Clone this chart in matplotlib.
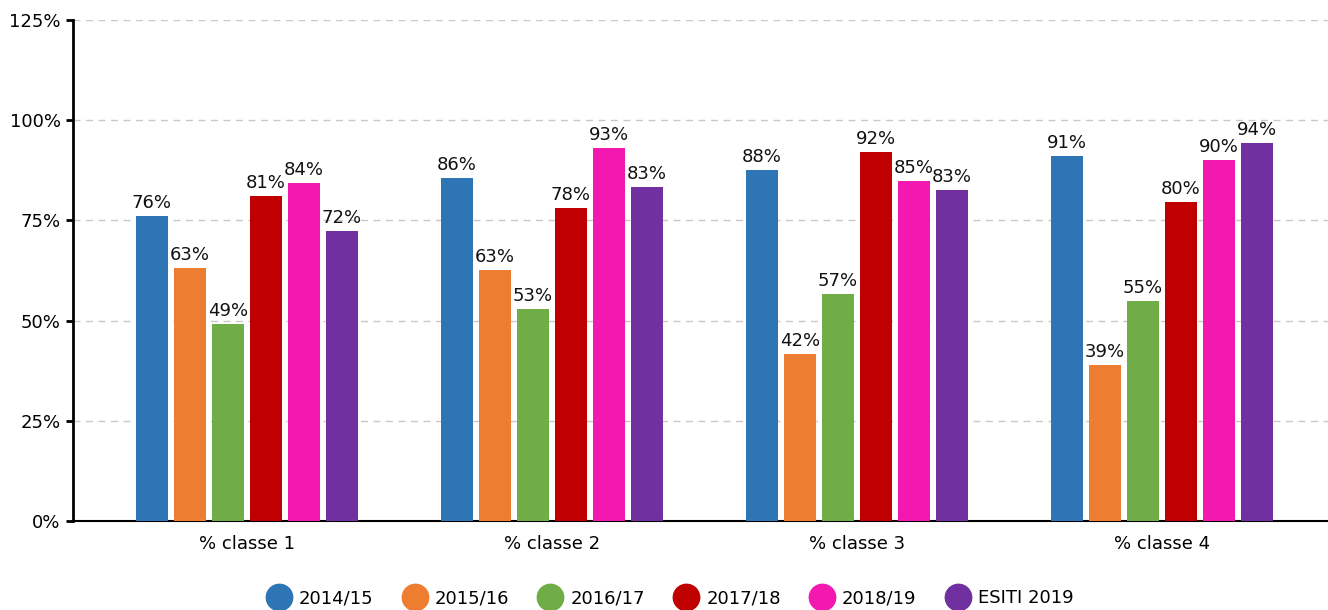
import numpy as np
import matplotlib
matplotlib.use('Agg')
import matplotlib.pyplot as plt
from matplotlib.ticker import FuncFormatter
from matplotlib.lines import Line2D

categories = ['% classe 1', '% classe 2', '% classe 3', '% classe 4']
series = ['2014/15', '2015/16', '2016/17', '2017/18', '2018/19', 'ESITI 2019']
colors = ['#2E75B6', '#ED7D31', '#70AD47', '#C00000', '#F319B0', '#7030A0']

# values (percent)
v_1415 = [76.1, 85.5, 87.5, 91.0]
v_1516 = [63.1, 62.6, 41.6, 38.9]
v_1617 = [49.1, 52.9, 56.6, 54.9]
v_1718 = [81.0, 78.1, 92.0, 79.6]
v_1819 = [84.3, 93.0, 84.8, 90.0]
v_esiti = [72.3, 83.3, 82.7, 94.3]
values = [v_1415, v_1516, v_1617, v_1718, v_1819, v_esiti]

yticks = [0, 25, 50, 75, 100, 125]

plt.rcParams['font.family'] = ['DejaVu Sans']

fig = plt.figure(figsize=(13.28, 6.10), dpi=100)
ax = fig.add_axes([73 / 1328, 1 - 521 / 610, (1328 - 73) / 1328, (521 - 20) / 610])

x = np.arange(len(categories))
width = 0.105
step = 0.1246
for i, (name, vals, c) in enumerate(zip(series, values, colors)):
    pos = x + (i - 2.5) * step
    bars = ax.bar(pos, vals, width=width, color=c, label=name, zorder=3)
    for b, v in zip(bars, vals):
        ax.text(b.get_x() + b.get_width() / 2, v + 1.0, f'{round(v):d}%',
                ha='center', va='bottom', fontsize=13, color='#111111', zorder=4)

ax.set_xlim(-0.570, 3.544)
ax.set_ylim(0, 125)
ax.set_yticks(yticks)
ax.yaxis.set_major_formatter(FuncFormatter(lambda v, p: f'{v:.0f}%'))
ax.set_xticks(x)
ax.set_xticklabels(categories)
ax.tick_params(axis='y', labelsize=13, length=5, width=2, color='black', pad=4)
ax.tick_params(axis='x', labelsize=13, length=0, pad=10)

ax.grid(True, axis='y', linestyle=(0, (5, 4)), color='#c8c8c8', linewidth=1, zorder=0)
for s in ['top', 'right']:
    ax.spines[s].set_visible(False)
ax.spines['left'].set_linewidth(2)
ax.spines['left'].set_zorder(5)
ax.spines['bottom'].set_linewidth(1.5)
ax.spines['bottom'].set_color('black')

handles = [Line2D([0], [0], marker='o', linestyle='none', markersize=19,
                  markerfacecolor=c, markeredgecolor=c) for c in colors]
fig.legend(handles, series, loc='lower center', bbox_to_anchor=(0.505, -0.022),
           ncol=6, frameon=False, fontsize=13, handletextpad=0.5,
           columnspacing=1.7, handlelength=1.2)

fig.savefig('out.png', dpi=100, facecolor='white')
